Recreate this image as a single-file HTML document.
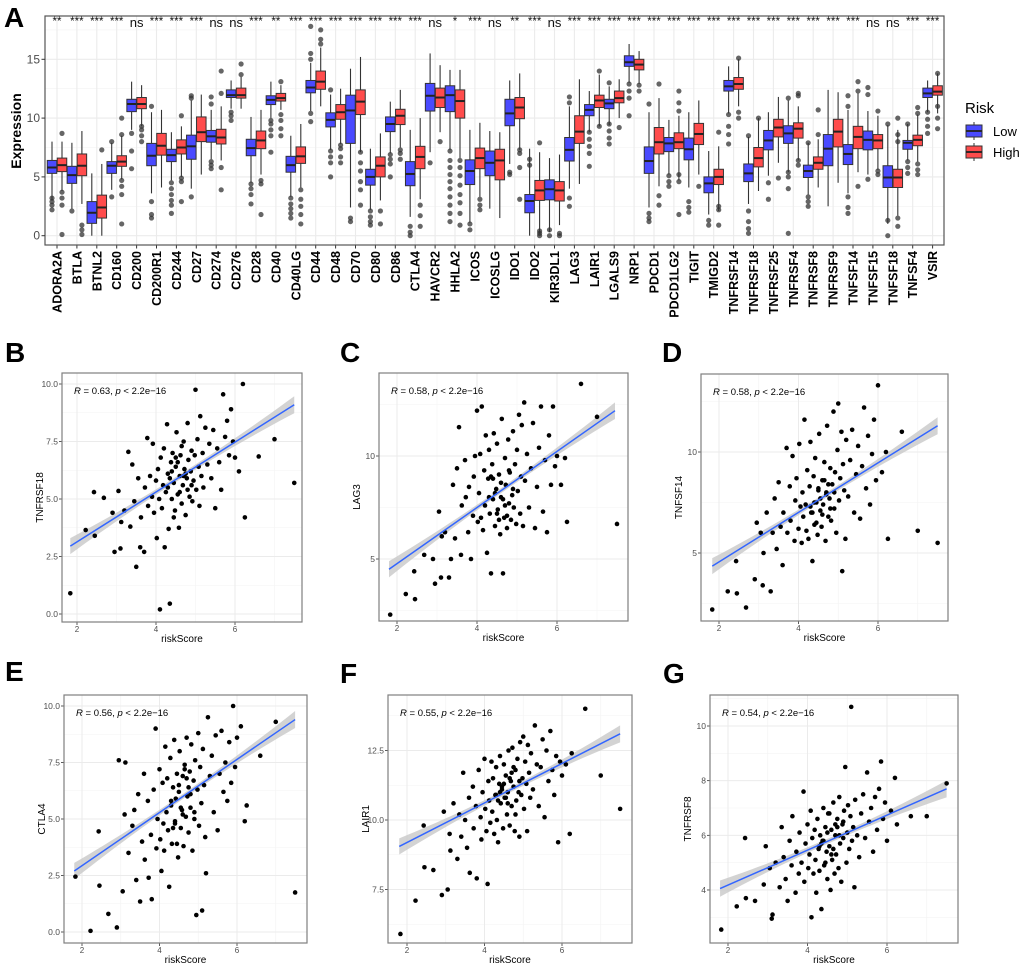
<!DOCTYPE html>
<html><head><meta charset="utf-8"><style>
html,body{margin:0;padding:0;background:#fff}
svg{display:block;font-family:"Liberation Sans",sans-serif}
</style></head><body>
<svg id="fig" width="1020" height="966" viewBox="0 0 1020 966" xmlns="http://www.w3.org/2000/svg"></svg>
<script>
// ---------- Panel A data ----------
const genes=["ADORA2A","BTLA","BTNL2","CD160","CD200","CD200R1","CD244","CD27","CD274","CD276","CD28","CD40","CD40LG","CD44","CD48","CD70","CD80","CD86","CTLA4","HAVCR2","HHLA2","ICOS","ICOSLG","IDO1","IDO2","KIR3DL1","LAG3","LAIR1","LGALS9","NRP1","PDCD1","PDCD1LG2","TIGIT","TMIGD2","TNFRSF14","TNFRSF18","TNFRSF25","TNFRSF4","TNFRSF8","TNFRSF9","TNFSF14","TNFSF15","TNFSF18","TNFSF4","VSIR"];
const signif=["**","***","***","***","ns","***","***","***","ns","ns","***","**","***","***","***","***","***","***","***","ns","*","***","ns","**","***","ns","***","***","***","***","***","***","***","***","***","***","***","***","***","***","***","ns","ns","***","***"];
// [q1, median, q3, whiskerLow, whiskerHigh]
const lowStats=[[5.3,5.8,6.4,3.0,8.0],[4.45,5.15,5.9,2.3,7.9],[1.05,1.95,2.9,0,5.3],[5.3,5.95,6.3,3.9,7.9],[10.55,11.2,11.6,9.0,13.1],[5.95,6.8,7.85,3.6,10.5],[6.3,6.85,7.35,4.7,8.8],[6.5,7.6,8.55,4.0,11.5],[7.95,8.45,8.95,6.5,10.7],[11.75,11.95,12.4,10.8,13.2],[6.8,7.45,8.2,4.5,10.1],[11.15,11.55,11.9,10.0,13.1],[5.4,6.0,6.75,3.3,8.5],[12.15,12.6,13.2,10.6,14.7],[9.25,9.85,10.45,7.3,12.0],[7.85,10.65,11.95,2.4,14.2],[4.3,5.0,5.65,2.2,7.4],[8.85,9.5,10.1,7.0,11.4],[4.25,5.25,6.3,1.6,9.0],[10.6,11.9,12.95,7.1,15.5],[10.55,11.95,12.75,7.3,14.1],[4.35,5.5,6.45,1.1,9.0],[5.1,6.2,7.2,2.3,8.9],[9.35,10.4,11.6,6.1,13.2],[1.95,2.95,3.5,0,7.4],[3.05,3.95,4.75,0.3,6.6],[6.35,7.3,8.35,4.0,11.0],[10.2,10.7,11.15,8.8,12.3],[10.8,11.25,11.6,9.4,12.7],[14.4,14.75,15.3,13.0,16.3],[5.3,6.35,7.55,2.4,10.5],[7.15,7.85,8.35,5.2,9.85],[6.45,7.35,8.3,4.1,10.5],[3.65,4.45,5.0,1.8,7.2],[12.3,12.7,13.2,10.4,14.4],[4.6,5.3,6.1,2.7,8.4],[7.3,8.1,8.95,5.1,10.5],[7.85,8.7,9.35,5.4,11.5],[4.95,5.5,6.0,3.5,7.9],[5.95,7.4,8.6,2.5,12.4],[6.05,6.95,7.75,3.6,10.7],[7.3,8.15,8.9,5.2,10.6],[4.1,4.95,5.95,1.0,9.4],[7.35,7.9,8.1,6.4,9.5],[11.75,12.1,12.55,10.5,13.2]];
const highStats=[[5.45,6.0,6.6,3.8,8.0],[5.1,5.95,6.95,2.7,8.9],[1.5,2.4,3.45,0,6.1],[5.9,6.3,6.8,4.8,8.5],[10.8,11.2,11.75,9.3,12.8],[6.85,7.65,8.7,4.1,10.7],[6.95,7.5,8.15,5.0,9.3],[8.0,8.8,10.1,5.2,12.0],[7.8,8.35,9.05,6.4,11.0],[11.7,11.95,12.55,10.8,13.5],[7.4,8.1,8.9,5.2,10.7],[11.45,11.7,12.1,10.7,12.8],[6.15,6.75,7.55,4.1,9.5],[12.45,13.1,14.0,11.0,16.0],[9.9,10.5,11.15,7.8,12.5],[10.3,11.4,12.4,7.1,15.2],[5.0,5.95,6.7,3.0,8.7],[9.45,10.2,10.75,7.5,12.4],[5.7,6.7,7.6,3.1,10.0],[10.9,11.75,12.55,8.8,14.5],[10.0,11.45,12.4,6.6,14.1],[5.7,6.6,7.45,3.3,9.6],[4.75,6.4,7.35,1.5,8.8],[9.95,10.9,11.75,7.3,13.8],[3.0,3.85,4.7,0.2,7.1],[2.95,3.85,4.6,0.9,6.9],[7.85,8.85,10.2,4.4,13.3],[10.9,11.5,11.95,9.3,13.7],[11.3,11.7,12.3,10.0,13.3],[14.1,14.55,15.0,12.9,15.7],[6.95,7.95,9.2,4.2,11.7],[7.4,7.95,8.75,4.7,10.2],[7.75,8.65,9.55,5.2,11.5],[4.35,5.0,5.65,2.1,7.6],[12.45,12.9,13.45,11.0,15.0],[5.85,6.6,7.5,3.8,10.0],[8.4,9.2,9.9,6.2,11.8],[8.3,9.1,9.6,6.4,11.0],[5.65,6.2,6.7,4.1,8.2],[7.55,8.85,9.9,4.5,12.2],[7.4,8.4,9.3,5.4,12.1],[7.4,8.1,8.6,5.6,10.2],[4.1,4.95,5.65,1.7,9.0],[7.65,8.15,8.55,6.3,10.3],[11.95,12.25,12.75,10.4,13.8]];
const lowOut=[[2.2,2.6,2.9,3.2],[2.1],[],[3.3,8.0],[8.7,7.2,5.7],[11.0,1.5,1.8,2.9],[1.9,2.6,3.0,3.5,4.0,4.5],[11.9,11.7,3.3],[11.8,11.2,5.7,6.0,6.3],[9.8,10.2,10.5],[2.7,3.5,4.0,4.4],[7.1,8.5,9.0,9.5,9.8],[1.5,1.9,2.3,2.7,3.2],[15.0,15.5,17.8,9.7,10.4],[12.4,5.0,6.2,6.7,7.2],[1.2,1.5],[0.9,1.2,1.6,2.1],[5.0,6.1,6.5,6.9],[0,0.3,0.8],[6.2],[1.2,1.9,2.6,3.3,4.0,4.6,5.2,5.8,6.4,7.2],[0.5,1.0],[],[5.2,5.4],[6.0,6.5],[0,0.5],[11.3,11.8,2.5,3.2],[5.9,7.0,7.6,8.2,8.8],[7.8,8.3,8.9,9.5,13.0],[10.2,11.7,12.3,12.9],[1.2,1.5,1.9,11.2],[4.2,4.6,5.1],[2.0,2.4,2.9],[0.9,1.3],[7.8,8.6,9.3,10.3],[0.2,0.6,1.2,2.1,8.5],[3.1,4.5],[0.2,4.0,5.0,5.4,11.7],[2.5,2.9,3.3,7.9],[],[1.9,2.4,3.3,11.0,11.9],[12.0,12.6,4.8],[0,1.3,9.5],[5.3,5.8,6.3,9.5],[8.7,9.3,9.9,10.5]];
const highOut=[[8.7,0.1,2.6,3.2,3.7],[0.1,0.5,0.9],[7.3],[10.0,8.6,4.2,4.7,1.0,3.5],[8.0,8.5,9.0,9.3],[],[10.2,2.9,4.6,4.9],[],[12.1,14.0,3.9,5.8],[14.6,13.7],[1.8,4.4,4.7],[13.1,8.5,9.1,9.8,10.3],[1.0,1.8,2.5,3.1,3.9],[16.3,16.7,17.5],[6.2,6.7,7.4,7.7],[2.6,3.9,4.6,5.5,6.2,7.1],[1.0,2.1],[6.5,7.0,7.3],[0.8,1.7,2.6],[8.0],[0.9,1.9,2.8,3.5,4.3,5.1,5.8,6.4],[2.2,2.6,3.1],[],[3.1,5.8,7.0,7.3],[7.9,0,0.2,0.4],[0,0.2],[],[14.0,9.3],[9.2],[12.3,12.8],[12.9,3.4,2.6],[10.6,11.3,12.3,1.8,4.6,5.2],[4.2],[0.9,2.2,2.5,8.8],[10.0,10.5,15.1],[10.0],[4.9],[12.1,11.9,6.0,6.4],[10.7,8.6],[],[12.3,13.1,4.2],[10.6,5.2,5.5],[0.8,1.5,10.0,8.0,8.6],[5.2,5.6,6.1,10.4,10.9],[9.1,10.0,11.0,13.8]];
const yTicksA=[0,5,10,15];

// ---------- Scatter data (shared riskScore) ----------
const riskScore=[1.83,2.22,2.43,2.45,2.68,2.9,2.95,3.05,3.1,3.12,3.2,3.3,3.35,3.4,3.45,3.5,3.55,3.6,3.62,3.7,3.72,3.78,3.8,3.85,3.9,3.92,3.95,4.0,4.02,4.05,4.08,4.1,4.12,4.15,4.18,4.2,4.22,4.25,4.28,4.3,4.32,4.35,4.38,4.4,4.42,4.45,4.48,4.5,4.52,4.55,4.58,4.6,4.62,4.65,4.68,4.7,4.72,4.75,4.78,4.8,4.82,4.85,4.88,4.9,4.92,4.95,4.98,5.0,5.02,5.05,5.08,5.1,5.12,5.15,5.18,5.2,5.25,5.3,5.35,5.4,5.45,5.5,5.55,5.6,5.65,5.7,5.75,5.8,5.85,5.9,5.95,6.0,6.1,6.2,6.25,6.6,7.0,7.5,4.3,4.5,4.6,4.7,4.4,4.8,4.65,4.55,4.45,4.75,4.35,4.9];
const tnfrsf18=[0.9,3.65,5.3,3.4,5.05,4.4,2.7,5.35,2.85,4.0,4.5,7.05,3.8,6.5,4.9,2.05,5.9,2.9,4.2,2.7,5.5,7.65,4.7,6.0,5.1,7.4,4.4,5.8,3.3,6.3,5.0,0.2,6.8,4.6,5.6,7.2,2.9,5.3,8.25,6.1,3.7,0.45,6.6,5.0,7.0,5.7,4.5,6.4,7.9,5.2,3.75,6.0,6.9,4.8,5.6,7.5,6.3,4.3,5.9,8.3,6.7,5.1,6.2,7.1,4.9,5.8,6.9,9.75,5.4,7.6,6.4,4.7,8.6,6.0,7.0,5.5,8.1,6.5,7.4,5.9,8.0,4.6,7.2,6.6,5.4,9.55,7.7,8.4,6.9,8.9,7.5,6.8,6.2,10.0,4.2,6.85,7.6,5.7,5.5,6.8,5.3,6.0,6.2,5.4,7.3,6.6,4.2,6.1,5.9,5.6];
const lag3=[2.3,3.3,4.4,3.05,5.2,5.0,3.8,7.3,4.1,6.1,6.3,4.1,5.0,8.6,6.0,9.4,11.4,5.2,7.6,9.8,8.0,6.3,8.5,5.0,7.1,9.0,10.0,12.2,6.8,8.2,10.1,7.0,12.4,6.4,9.3,7.6,11.0,5.3,8.9,10.3,7.2,4.3,9.6,7.9,11.1,6.6,8.4,10.6,7.4,9.1,6.2,8.0,11.8,4.3,7.0,9.9,8.6,6.5,10.8,7.7,9.2,6.9,8.1,11.2,7.5,9.6,6.7,10.3,8.3,12.0,7.2,9.0,11.5,6.6,12.6,8.8,10.1,7.5,9.4,11.6,6.5,8.5,10.4,12.4,7.3,9.8,6.3,11.0,8.6,12.4,9.5,10.0,8.6,9.9,6.8,13.5,11.9,6.7,8.0,7.2,8.7,7.6,8.9,9.3,7.9,6.9,8.2,7.1,9.0,8.4];
const tnfsf14=[2.2,3.1,4.6,3.0,2.3,3.7,6.5,6.0,3.4,5.0,7.0,3.1,6.0,7.7,5.2,8.5,6.3,4.4,7.0,10.2,6.0,8.3,6.6,9.8,5.6,7.6,8.7,6.2,10.4,7.3,5.5,8.0,6.8,11.6,7.4,6.1,9.1,5.7,8.3,10.5,7.0,4.6,8.8,6.4,9.7,7.5,5.9,8.2,10.9,7.1,6.3,8.6,7.4,9.5,5.6,8.0,11.3,6.8,7.7,9.2,6.6,8.4,12.0,7.2,9.0,6.0,10.1,12.4,7.6,8.7,11.0,4.1,9.4,8.1,5.7,10.6,7.8,9.6,11.1,7.0,8.9,10.3,6.7,9.3,12.2,8.2,10.8,7.4,9.9,11.6,8.6,13.3,9.0,10.0,5.7,11.0,6.1,5.5,7.3,8.1,6.9,7.9,7.5,7.2,8.6,7.7,6.5,8.4,7.0,8.0];
const ctla4=[2.45,0.05,4.45,2.05,0.8,0.2,7.6,1.8,5.2,7.5,3.5,4.7,5.4,2.3,6.1,1.35,4.0,7.0,3.2,5.8,2.4,4.3,1.45,6.3,9.0,3.7,5.0,7.2,4.1,2.7,6.6,4.8,3.6,8.2,5.3,6.8,4.5,2.0,7.7,5.6,3.9,6.4,8.5,4.9,5.9,7.0,3.3,6.2,8.0,4.6,5.4,6.9,3.8,7.4,5.1,8.6,6.0,4.4,7.1,5.5,8.3,3.6,6.7,5.0,7.6,0.75,6.3,8.8,4.7,7.3,5.7,0.95,8.1,6.5,4.2,2.6,9.5,6.9,7.8,5.3,8.7,4.5,7.0,8.9,6.2,7.5,5.8,8.4,6.6,10.0,7.3,8.6,9.1,4.9,5.6,7.8,9.3,1.75,5.8,6.5,5.2,6.8,4.8,6.1,7.2,5.5,3.9,6.4,4.6,5.3];
const lair1=[5.9,7.1,9.8,8.3,8.2,7.3,10.3,7.5,9.5,8.9,10.6,8.6,10.2,9.4,11.7,10.0,9.0,10.8,8.1,11.2,9.7,10.5,7.9,11.8,10.1,9.3,11.0,12.2,10.4,9.6,7.7,11.4,10.7,9.9,12.1,10.3,11.5,9.5,10.9,11.9,10.0,9.2,11.3,12.3,10.6,11.1,9.7,12.0,10.8,11.6,10.2,11.0,12.5,9.8,11.4,10.5,12.6,11.2,9.6,11.8,10.7,12.2,11.0,9.4,12.8,10.9,11.5,13.0,10.4,12.1,11.3,9.6,12.7,11.7,10.8,12.4,11.1,13.4,12.0,10.5,11.9,12.9,10.1,12.5,11.4,13.2,11.8,10.9,12.3,9.2,12.1,11.6,12.0,9.5,12.4,14.0,11.6,10.4,10.9,11.3,10.6,11.7,11.0,10.2,11.5,10.8,11.2,11.9,10.7,11.4];
const tnfrsf8=[2.55,3.4,5.9,3.7,3.6,4.2,5.6,4.8,2.95,3.1,5.0,4.1,6.3,5.2,4.4,3.6,5.8,4.9,6.7,3.9,5.4,4.6,6.1,5.0,7.6,4.3,5.7,6.4,4.8,5.3,6.9,3.0,5.9,4.6,6.2,5.1,3.9,6.6,5.5,4.7,6.0,3.3,5.8,7.0,4.9,6.3,5.4,4.4,6.8,5.6,4.0,6.2,5.1,7.2,4.6,6.0,5.3,6.6,4.8,7.4,5.7,4.3,6.4,5.9,6.9,8.5,5.0,6.1,7.1,5.5,6.7,10.7,5.8,6.3,4.1,7.3,6.0,5.2,6.8,7.5,5.9,8.3,6.5,7.0,5.4,7.4,6.2,7.7,8.7,6.6,7.2,5.8,6.9,8.1,6.4,6.7,6.7,7.9,5.6,6.1,5.3,6.4,5.8,6.0,5.5,6.8,5.0,6.3,5.7,6.5];
const xTicksS=[2,4,6];

const NS="http://www.w3.org/2000/svg";
const svg=document.getElementById("fig");
function mk(tag,attrs,parent){const e=document.createElementNS(NS,tag);for(const k in attrs)e.setAttribute(k,attrs[k]);(parent||svg).appendChild(e);return e;}
function txt(s,attrs,parent){const e=mk("text",attrs,parent);e.textContent=s;return e;}

// ---------- Panel A ----------
const A={l:45,t:16,r:944,b:245};
const ax=i=>57+i*19.9;
const ay=v=>235.7-v*11.76;
const gA=mk("g",{});


mk("rect",{x:A.l,y:A.t,width:A.r-A.l,height:A.b-A.t,fill:"#fff"},gA);
for(let v=-2.5;v<=17.5;v+=5){const y=ay(v);if(y>A.t&&y<A.b)mk("line",{x1:A.l,x2:A.r,y1:y,y2:y,stroke:"#f2f2f2","stroke-width":0.6},gA);}
yTicksA.forEach(v=>{const y=ay(v);mk("line",{x1:A.l,x2:A.r,y1:y,y2:y,stroke:"#ebebeb","stroke-width":1.1},gA);});
genes.forEach((g,i)=>mk("line",{x1:ax(i),x2:ax(i),y1:A.t,y2:A.b,stroke:"#ebebeb","stroke-width":1.1},gA));
function drawBox(i,stats,outs,off,fill,nm){
  const cx=ax(i)+off,w=9.5;
  const g=mk("g",{},gA);
  
  
  const [q1,md,q3,lo,hi]=stats;
  mk("line",{x1:cx,x2:cx,y1:ay(hi),y2:ay(q3),stroke:"#333","stroke-width":1.1},g);
  mk("line",{x1:cx,x2:cx,y1:ay(q1),y2:ay(lo),stroke:"#333","stroke-width":1.1},g);
  mk("rect",{x:cx-w/2,y:ay(q3),width:w,height:ay(q1)-ay(q3),fill:fill,stroke:"#333","stroke-width":1},g);
  mk("line",{x1:cx-w/2,x2:cx+w/2,y1:ay(md),y2:ay(md),stroke:"#222","stroke-width":2},g);
  outs.forEach(v=>{const c=mk("circle",{cx:cx,cy:ay(v),r:2.6,fill:"#333","fill-opacity":0.75},g);
    
    });
}
genes.forEach((g,i)=>{
  drawBox(i,lowStats[i],lowOut[i],-5,"#4a4aff","box-low-"+g.toLowerCase());
  drawBox(i,highStats[i],highOut[i],5,"#ff4c4c","box-high-"+g.toLowerCase());
  const s=txt(signif[i],{x:ax(i),y:signif[i]==="ns"?27:25,"text-anchor":"middle","font-size":signif[i]==="ns"?13:11.5,fill:"#111"},gA);
  
  
  mk("line",{x1:ax(i),x2:ax(i),y1:A.b,y2:A.b+3.5,stroke:"#333","stroke-width":1},gA);
  const t=txt(g,{x:0,y:0,transform:`translate(${ax(i)+4.5},${A.b+6}) rotate(-90)`,"text-anchor":"end","font-size":12.5,"font-weight":"bold",fill:"#000"},gA);
  
  
});
mk("rect",{x:A.l,y:A.t,width:A.r-A.l,height:A.b-A.t,fill:"none",stroke:"#555","stroke-width":1.2},gA);
yTicksA.forEach(v=>{const y=ay(v);mk("line",{x1:A.l-3.5,x2:A.l,y1:y,y2:y,stroke:"#333"},gA);
  const t=txt(String(v),{x:A.l-5,y:y+4,"text-anchor":"end","font-size":12,fill:"#4d4d4d"},gA);
  
  });
const yt=txt("Expression",{x:0,y:0,transform:"translate(21,131) rotate(-90)","text-anchor":"middle","font-size":14,"font-weight":"bold"},gA);


const la=txt("A",{x:4,y:27,"font-size":28,"font-weight":"bold"});


const lg=mk("g",{});


txt("Risk",{x:965,y:113,"font-size":15},lg);
[["Low","#4a4aff",131],["High","#ff4c4c",152]].forEach(([n,c,y])=>{
  const e=mk("g",{},lg);
  
  
  mk("line",{x1:974,x2:974,y1:y-9,y2:y+9,stroke:"#333"},e);
  mk("rect",{x:966,y:y-6,width:16,height:12,fill:c,stroke:"#333"},e);
  mk("line",{x1:966,x2:982,y1:y,y2:y,stroke:"#222","stroke-width":1.8},e);
  txt(n,{x:993,y:y+5,"font-size":13},e);
});

// ---------- Scatter panels ----------
const panels=[
 {id:"b",letter:"B",lx:5,ly:362,f:[62,373,302,622],x2:77,kx:39.5,y10:384,ky:23,yt:[0,2.5,5,7.5,10],dec:1,ylab:"TNFRSF18",data:tnfrsf18,line:[1.83,2.95,7.5,9.1],R:"0.63"},
 {id:"c",letter:"C",lx:340,ly:362,f:[379,373,628,621],x2:397,kx:40,y10:456,ky:20.6,yt:[5,10],dec:0,ylab:"LAG3",data:lag3,line:[1.8,4.5,7.45,12.2],R:"0.58"},
 {id:"d",letter:"D",lx:662,ly:362,f:[701,374,948,621],x2:719,kx:39.75,y10:452,ky:20.2,yt:[5,10],dec:0,ylab:"TNFSF14",data:tnfsf14,line:[1.83,4.35,7.5,11.3],R:"0.58"},
 {id:"e",letter:"E",lx:5,ly:681,f:[64,695,307,943],x2:82,kx:38.75,y10:706,ky:22.6,yt:[0,2.5,5,7.5,10],dec:1,ylab:"CTLA4",data:ctla4,line:[1.8,2.7,7.5,9.4],R:"0.56"},
 {id:"f",letter:"F",lx:340,ly:683,f:[388,695,632,943],x2:407,kx:38.75,y10:820,ky:27.8,yt:[7.5,10,12.5],dec:1,ylab:"LAIR1",data:lair1,line:[1.8,9.05,7.5,13.1],R:"0.55"},
 {id:"g",letter:"G",lx:663,ly:683,f:[710,695,958,943],x2:728,kx:39.75,y10:726,ky:27.33,yt:[4,6,8,10],dec:0,ylab:"TNFRSF8",data:tnfrsf8,line:[1.8,4.05,7.5,7.7],R:"0.54"}
];
panels.forEach(p=>{
  const [l,t,r,b]=p.f;
  const sx=v=>p.x2+(v-2)*p.kx, sy=v=>p.y10-(v-10)*p.ky;
  const g=mk("g",{});
  
  
  const L=txt(p.letter,{x:p.lx,y:p.ly,"font-size":28,"font-weight":"bold"},g);
  
  
  const cp="clip"+p.id;
  const cl=mk("clipPath",{id:cp},g);mk("rect",{x:l,y:t,width:r-l,height:b-t},cl);
  const step=p.yt[1]-p.yt[0];
  for(let v=p.yt[0]-step*1.5;v<=p.yt[p.yt.length-1]+step*1.5;v+=step){const y=sy(v);if(y>t&&y<b)mk("line",{x1:l,x2:r,y1:y,y2:y,stroke:"#f3f3f3","stroke-width":0.6},g);}
  [1,3,5,7].forEach(v=>{const x=sx(v);if(x>l&&x<r)mk("line",{x1:x,x2:x,y1:t,y2:b,stroke:"#f3f3f3","stroke-width":0.6},g);});
  p.yt.forEach(v=>{const y=sy(v);mk("line",{x1:l,x2:r,y1:y,y2:y,stroke:"#ebebeb","stroke-width":1},g);
    mk("line",{x1:l-3,x2:l,y1:y,y2:y,stroke:"#333","stroke-width":0.8},g);
    const tl=txt(v.toFixed(p.dec),{x:l-4,y:y+3,"text-anchor":"end","font-size":8.5,fill:"#4d4d4d"},g);
    
    });
  xTicksS.forEach(v=>{const x=sx(v);mk("line",{x1:x,x2:x,y1:t,y2:b,stroke:"#ebebeb","stroke-width":1},g);
    mk("line",{x1:x,x2:x,y1:b,y2:b+3,stroke:"#333","stroke-width":0.8},g);
    const tl=txt(String(v),{x:x,y:b+10,"text-anchor":"middle","font-size":8,fill:"#4d4d4d"},g);
    
    });
  const [x1,y1,x2,y2]=p.line;const N=30;const up=[],dn=[];
  for(let k=0;k<=N;k++){const xv=x1+(x2-x1)*k/N,yv=y1+(y2-y1)*k/N;const hw=2.5+6*Math.pow((xv-4.6)/2.9,2);
    up.push(sx(xv)+","+(sy(yv)-hw));dn.unshift(sx(xv)+","+(sy(yv)+hw));}
  const band=mk("polygon",{points:up.concat(dn).join(" "),fill:"#c8c8c8","fill-opacity":0.8},g);
  
  
  const pts=mk("g",{"clip-path":`url(#${cp})`},g);
  
  
  riskScore.forEach((xv,i)=>{const c=mk("circle",{cx:sx(xv),cy:sy(p.data[i]),r:2.3,fill:"#000"},pts);
    
    });
  const rl=mk("line",{x1:sx(x1),y1:sy(y1),x2:sx(x2),y2:sy(y2),stroke:"#3366ff","stroke-width":1.5},g);
  
  
  mk("rect",{x:l,y:t,width:r-l,height:b-t,fill:"none",stroke:"#7f7f7f","stroke-width":1.2},g);
  const an=mk("text",{x:l+12,y:t+21,"font-size":9.5,fill:"#000"},g);
  
  
  an.innerHTML=`<tspan font-style="italic">R</tspan> = ${p.R}, <tspan font-style="italic">p</tspan> &lt; 2.2e−16`;
  const yl=txt(p.ylab,{x:0,y:0,transform:`translate(${l-19},${(t+b)/2}) rotate(-90)`,"text-anchor":"middle","font-size":10,fill:"#000"},g);
  
  
  const xl=txt("riskScore",{x:(l+r)/2,y:b+20,"text-anchor":"middle","font-size":10,fill:"#000"},g);
  
  
});
</script>
</body></html>
